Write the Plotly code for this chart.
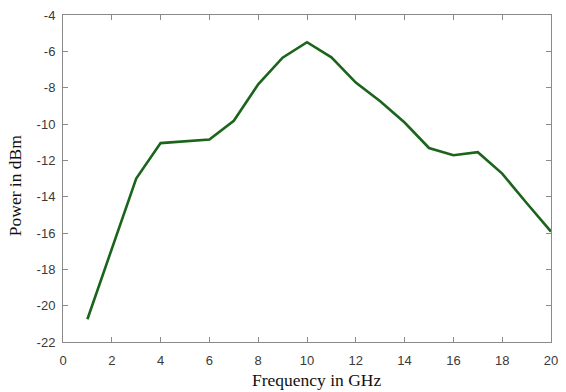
import plotly.graph_objects as go

# Measured output power across the frequency sweep
frequency_ghz = [1, 2, 3, 4, 5, 6, 7, 8, 9, 10, 11, 12, 13, 14, 15, 16, 17, 18, 19, 20]
power_dbm = [-20.75, -16.9, -13.0, -11.05, -10.95, -10.85, -9.82, -7.82, -6.35, -5.5,
             -6.33, -7.72, -8.75, -9.92, -11.32, -11.72, -11.55, -12.73, -14.35, -15.92]

x_ticks = list(range(0, 21, 2))
y_ticks = list(range(-22, -3, 2))
x_tick_text = [str(v) for v in x_ticks]
y_tick_text = [str(v) for v in y_ticks]  # plain hyphen as minus sign

x_title = "Frequency in GHz"
y_title = "Power in dBm"

axis_common = dict(
    showgrid=False, zeroline=False,
    showline=True, linecolor="#8a8a8a", linewidth=1, mirror="ticks",
    ticks="inside", ticklen=5, tickcolor="#8a8a8a", tickwidth=1,
    tickfont=dict(family="Arial, Liberation Sans, sans-serif", size=13, color="#3a3a3a"),
)
title_font = dict(family="Liberation Serif, Times New Roman, serif", size=17.5, color="#111111")

fig = go.Figure()
fig.add_trace(go.Scatter(
    x=frequency_ghz, y=power_dbm, mode="lines",
    line=dict(color="#1b641b", width=2.6),
    showlegend=False,
))

fig.update_layout(
    width=566, height=392,
    margin=dict(l=63, r=8, t=12, b=50),
    paper_bgcolor="white", plot_bgcolor="white",
    xaxis=dict(range=[0, 20], tickvals=x_ticks, ticktext=x_tick_text,
               ticklabelstandoff=6, **axis_common),
    yaxis=dict(range=[-22, -4], tickvals=y_ticks, ticktext=y_tick_text,
               ticklabelstandoff=4, **axis_common),
    annotations=[
        # axis titles placed as free text so they can sit slightly off-centre
        dict(text=x_title, xref="paper", yref="paper", x=0.52, y=-0.115,
             xanchor="center", yanchor="middle", showarrow=False, font=title_font),
        dict(text=y_title, xref="paper", yref="paper", x=-0.098, y=0.48,
             xanchor="center", yanchor="middle", textangle=-90,
             showarrow=False, font=title_font),
    ],
)

fig.write_html("out.html")
